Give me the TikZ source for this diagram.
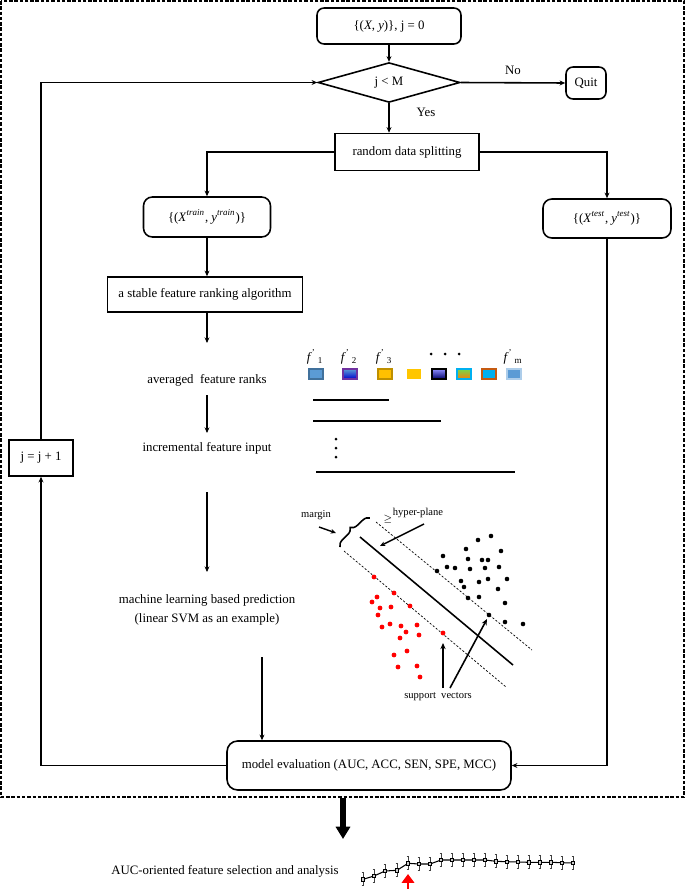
\documentclass[tikz,border=0pt]{standalone}
\usepackage{fontspec}
\setmainfont{Liberation Serif}
\usetikzlibrary{arrows.meta,shapes.geometric,decorations.pathreplacing}

\definecolor{fblue}{HTML}{5B9BD5}
\definecolor{fblueline}{HTML}{41719C}
\definecolor{fgold}{HTML}{FFC000}
\definecolor{fgoldline}{HTML}{BF9000}
\definecolor{fcyan}{HTML}{00B0F0}
\definecolor{fbrown}{HTML}{C55A11}
\definecolor{fpurple}{HTML}{7030A0}

\tikzset{
  every node/.style={font=\fontsize{7.3}{9}\selectfont},
  box/.style={draw, line width=0.9pt, inner sep=0pt},
  rbox/.style={box, rounded corners=4pt},
  flow/.style={line width=0.9pt, -{Stealth[length=3.2pt,width=2.8pt]}},
  thinflow/.style={line width=0.6pt, -{Stealth[length=3.2pt,width=2.8pt]}},
  feat/.style={draw, line width=0.6pt, minimum width=0.28cm, minimum height=0.2cm, inner sep=0pt},
  small/.style={font=\fontsize{6}{7}\selectfont},
  margline/.style={line width=0.4pt, dash pattern=on 1.2pt off 1pt},
  reddot/.style={fill=red},
  blackdot/.style={fill=black}
}

\begin{document}
\begin{tikzpicture}[x=0.02cm, y=-0.02cm]
    \useasboundingbox (0,0) rectangle (685,889);
    \draw[line width=0.7pt, dash pattern=on 2pt off 1pt] (1,1) rectangle (684,797);

    % flow chart boxes
    \node[rbox, minimum width=2.88cm, minimum height=0.72cm] (start) at (389,26)
        {\{(\textit{X}, \textit{y})\}, j = 0};
    \node[box, diamond, minimum width=2.84cm, minimum height=0.7cm] (cond) at (389,82.5) {j < M};
    \node[rbox, minimum width=0.8cm, minimum height=0.64cm] (quit) at (586,83) {Quit};
    \node[box, minimum width=2.88cm, minimum height=0.74cm] (split) at (407,152) {random data splitting};
    \node[rbox, rounded corners=5pt, minimum width=2.54cm, minimum height=0.8cm] (train) at (207,217)
        {\{(\textit{X}\textsuperscript{\textit{train}}, \textit{y}\textsuperscript{\textit{train}})\}};
    \node[rbox, rounded corners=5pt, minimum width=2.56cm, minimum height=0.78cm] (test) at (607,218.5)
        {\{(\textit{X}\textsuperscript{\textit{test}}, \textit{y}\textsuperscript{\textit{test}})\}};
    \node[box, minimum width=3.9cm, minimum height=0.7cm] (rankalg) at (205,294.5)
        {a stable feature ranking algorithm};
    \node (avg) at (207,380) {averaged\ \ feature ranks};
    \node (incr) at (207,448) {incremental feature input};
    \node[align=center] (ml) at (207,610)
        {machine learning based prediction\\[2pt](linear SVM as an example)};
    \node[rbox, rounded corners=6pt, minimum width=5.68cm, minimum height=0.98cm] (eval) at (369,765.5)
        {model evaluation (AUC, ACC, SEN, SPE, MCC)};
    \node[box, minimum width=1.28cm, minimum height=0.72cm] (inc) at (41,458) {j = j + 1};

    % connectors
    \coordinate (a1) at (207,343);
    \coordinate (a2) at (207,395);
    \coordinate (a3) at (207,433);
    \coordinate (a4) at (207,492);
    \coordinate (a5) at (207,572);
    \coordinate (a6) at (262,657);
    \draw[flow] (start) -- (cond);
    \draw[flow] (cond.east) -- node[above=1pt] {No} (quit.west);
    \draw[flow] (cond.south) -- node[pos=0.3, right=0.42cm] {Yes} (cond.south |- split.north);
    \draw[flow] (split.west) -| (train.north);
    \draw[flow] (split.east) -| (test.north);
    \draw[flow] (train.south) -- (train.south |- rankalg.north);
    \draw[flow] (a1 |- rankalg.south) -- (a1);
    \draw[flow] (a2) -- (a3);
    \draw[flow] (a4) -- (a5);
    \draw[thinflow] (a6) -- (a6 |- eval.north);
    \draw[flow] (test.south) |- (eval.east);
    \draw[flow] (eval.west) -| (inc.south);
    \draw[flow] (inc.north) |- (cond.west);

    % ranked features
    \node (f1) at (315,357) {\textit{f}\textsuperscript{'}\,\textsubscript{1}};
    \node (f2) at (349,357) {\textit{f}\textsuperscript{'}\,\textsubscript{2}};
    \node (f3) at (384,357) {\textit{f}\textsuperscript{'}\,\textsubscript{3}};
    \node (fm) at (513,357) {\textit{f}\textsuperscript{'}\,\textsubscript{m}};
    \foreach \x in {431,445,459}
        \fill (\x,354) circle (1.5);
    \node[feat, fill=fblue, draw=fblueline] (s1) at (316,374) {};
    \node[feat, top color=fblue, bottom color=blue!80!black, draw=fpurple] (s2) at (350,374) {};
    \node[feat, fill=fgold, draw=fgoldline] (s3) at (385,374) {};
    \node[feat, fill=fgold!90!yellow, draw=none] (s4) at (414,374) {};
    \node[feat, top color=blue!45!white, bottom color=blue!40!black, draw=black] (s5) at (439,374) {};
    \node[feat, top color=green!60!olive!70!white, bottom color=orange!80!brown, draw=fcyan] (s6) at (464,374) {};
    \node[feat, fill=fcyan, draw=fbrown] (s7) at (489,374) {};
    \node[feat, fill=fblue, draw=fblue!50!white] (s8) at (514,374) {};
    \draw[line width=0.9pt] (313,400) -- (389,400);
    \draw[line width=0.9pt] (313,421) -- (441,421);
    \foreach \y in {439,448,457}
        \fill (336,\y) circle (1.5);
    \draw[line width=0.9pt] (316,472) -- (515,472);

    % linear SVM sketch
    \draw[margline] (376,522) -- (532,650);
    \draw[margline] (344,551) -- (506,687);
    \draw[line width=0.9pt] (360,537) -- (513,665);
    \draw[line width=0.9pt, decorate, decoration={brace, amplitude=4pt}] (340,547) -- (370,518);
    \node[small] (margin) at (316,515) {margin};
    \node[small] (hyper) at (418,513) {hyper-plane};
    \node[font=\fontsize{4}{4}\selectfont] (geq) at (388,519) {$\geq$};
    \coordinate (mtip) at (336,533);
    \coordinate (htip) at (380,546);
    \draw[line width=0.8pt, -{Stealth[length=3pt,width=2.6pt]}] (319,527) -- (mtip);
    \draw[line width=0.8pt, -{Stealth[length=3pt,width=2.6pt]}] (424,524) -- (htip);
    \foreach \x/\y in {374/577, 394/593, 377/597, 372/602, 380/608, 391/607, 410/606,
                      378/615, 382/627, 390/624, 401/626, 417/625, 406/632, 419/635,
                      400/638, 443/633, 407/651, 394/655, 398/667, 417/666, 420/677}
        \fill[reddot] (\x,\y) circle (2.4);
    \foreach \x/\y in {491/536, 478/540, 466/549, 501/551, 443/556, 468/559, 482/560,
                      488/560, 447/567, 455/568, 470/569, 485/568, 499/567, 437/571,
                      507/579, 461/581, 479/582, 488/579, 464/587, 498/589, 468/598,
                      479/597, 505/603, 489/615, 505/622, 523/624}
        \fill[blackdot] (\x,\y) circle (2.3);
    \node[small] (sv) at (438,697) {support\ \ vectors};
    \coordinate (sv1) at (443,643);
    \coordinate (sv2) at (487,619);
    \draw[line width=0.9pt, -{Stealth[length=3.5pt,width=3pt]}] (443,688) -- (sv1);
    \draw[line width=0.9pt, -{Stealth[length=3.5pt,width=3pt]}] (450,688) -- (sv2);

    % result
    \coordinate (fbot) at (343,798);
    \coordinate (ftip) at (343,839);
    \draw[line width=3pt, -{Triangle[length=7pt,width=8pt]}] (fbot) -- (ftip);
    \node (auc) at (225,871) {AUC-oriented feature selection and analysis};
    \draw[line width=0.6pt] plot coordinates {(363,879.3) (374,876) (385,871) (397,870.3)
        (408,863.3) (419,864) (430,864) (441,860) (452,860) (463,860) (474,860) (485,860)
        (496,861.3) (507,861.7) (518,862) (529,862.3) (540,862.3) (551,862.3) (562,862.7) (573,863)};
    \foreach \x/\y in {363/879.3, 374/876, 385/871, 397/870.3, 408/863.3, 419/864, 430/864,
                      441/860, 452/860, 463/860, 474/860, 485/860, 496/861.3, 507/861.7,
                      518/862, 529/862.3, 540/862.3, 551/862.3, 562/862.7, 573/863} {
        \draw[line width=0.4pt, black!75] (\x,\y-6.5) -- (\x,\y+6.5);
        \draw[line width=0.4pt, black!75] (\x-1.3,\y-6.5) -- (\x+1.3,\y-6.5);
        \draw[line width=0.4pt, black!75] (\x-1.3,\y+6.5) -- (\x+1.3,\y+6.5);
        \draw[line width=0.4pt, fill=gray!40] (\x-1.6,\y-1.6) rectangle (\x+1.6,\y+1.6);
    }
    \draw[red, line width=1.7pt, -{Triangle[length=5pt,width=7pt]}] (408,892) -- (408,874);
\end{tikzpicture}
\end{document}
